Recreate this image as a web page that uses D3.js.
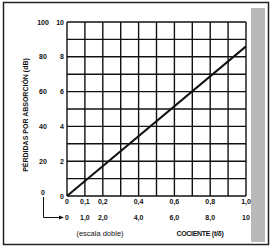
<!DOCTYPE html>
<html>
<head>
<meta charset="utf-8">
<script src="https://cdn.jsdelivr.net/npm/d3@7"></script>
<style>
  body { margin: 0; background: #fff; }
  text { font-family: "Liberation Sans", Arial, sans-serif; fill: #111; }
</style>
</head>
<body>
<div class="chart"></div>
<script>
// absorption loss vs t/delta, double scale
const ratioTicks = [0, 0.1, 0.2, 0.4, 0.6, 0.8, 1.0];
const ratioLabels = ["0", "0,1", "0,2", "0,4", "0,6", "0,8", "1,0"];
const ratioLabelsDouble = ["0", "1,0", "2,0", "4,0", "6,0", "8,0", "10"];
const lossTicks = [0, 2, 4, 6, 8, 10];
const lossLabels = ["0", "2", "4", "6", "8", "10"];
const lossLabelsDouble = ["0", "20", "40", "60", "80", "100"];
const lineRatio = [0, 1.0];
const lineLoss = [0, 8.6];

const width = 271, height = 250;
const plot = {left: 67, right: 246, top: 22, bottom: 196};

const svg = d3.select(".chart").append("svg")
    .attr("width", width)
    .attr("height", height);

const xScale = d3.scaleLinear().domain([0, 1]).range([plot.left, plot.right]);
const yScale = d3.scaleLinear().domain([0, 10]).range([plot.bottom, plot.top]);

// outer frame
svg.append("rect")
    .attr("x", 3.5).attr("y", 2.5)
    .attr("width", 265).attr("height", 242)
    .attr("fill", "none").attr("stroke", "#222").attr("stroke-width", 1.5);

// scan shading on the right edge
svg.append("rect")
    .attr("x", 251).attr("y", 8)
    .attr("width", 14).attr("height", 234)
    .attr("fill", "#8a8a8a").attr("opacity", 0.6);

// grid
const grid = svg.append("g").attr("stroke", "#111").attr("stroke-width", 1.4);
grid.selectAll(".vline")
    .data(xScale.ticks(10))
    .join("line")
    .attr("x1", d => xScale(d)).attr("x2", d => xScale(d))
    .attr("y1", plot.top).attr("y2", plot.bottom);
grid.selectAll(".hline")
    .data(yScale.ticks(10))
    .join("line")
    .attr("y1", d => yScale(d)).attr("y2", d => yScale(d))
    .attr("x1", plot.left).attr("x2", plot.right);

// the loss line
const line = d3.line()
    .x(d => xScale(d[0]))
    .y(d => yScale(d[1]));
svg.append("path")
    .datum(lineRatio.map((r, i) => [r, lineLoss[i]]))
    .attr("d", line)
    .attr("fill", "none")
    .attr("stroke", "#111")
    .attr("stroke-width", 2);

// y labels (inner and outer scale)
svg.selectAll(".yin")
    .data(lossTicks)
    .join("text")
    .attr("x", plot.left - 3)
    .attr("y", d => yScale(d) + 2.5)
    .attr("text-anchor", "end")
    .attr("font-size", 7).attr("font-weight", "bold")
    .text((d, i) => lossLabels[i]);
svg.selectAll(".yout")
    .data(lossTicks)
    .join("text")
    .attr("x", 43)
    .attr("y", d => yScale(d) + (d === 0 ? -1 : 2.5))
    .attr("text-anchor", "middle")
    .attr("font-size", 7).attr("font-weight", "bold")
    .text((d, i) => lossLabelsDouble[i]);

// x labels (two rows)
svg.selectAll(".xin")
    .data(ratioTicks)
    .join("text")
    .attr("x", d => xScale(d))
    .attr("y", 204)
    .attr("text-anchor", "middle")
    .attr("font-size", 7).attr("font-weight", "bold")
    .text((d, i) => ratioLabels[i]);
svg.selectAll(".xout")
    .data(ratioTicks)
    .join("text")
    .attr("x", d => xScale(d))
    .attr("y", 220)
    .attr("text-anchor", "middle")
    .attr("font-size", 7).attr("font-weight", "bold")
    .text((d, i) => ratioLabelsDouble[i]);

// arrow from outer y scale to outer x scale
svg.append("path")
    .attr("d", "M43.5,197 V217.5 H61")
    .attr("fill", "none").attr("stroke", "#111").attr("stroke-width", 1);
svg.append("path")
    .attr("d", "M64,217.5 L59,215.5 L59,219.5 Z")
    .attr("fill", "#111");

// axis titles
svg.append("text")
    .attr("transform", "translate(28,115) rotate(-90)")
    .attr("text-anchor", "middle")
    .attr("font-size", 7).attr("font-weight", "bold")
    .text("PÉRDIDAS POR ABSORCIÓN (dB)");
svg.append("text")
    .attr("x", 100).attr("y", 236)
    .attr("text-anchor", "middle")
    .attr("font-size", 7.5)
    .text("(escala doble)");
svg.append("text")
    .attr("x", 200).attr("y", 236)
    .attr("text-anchor", "middle")
    .attr("font-size", 7).attr("font-weight", "bold")
    .attr("letter-spacing", -0.3)
    .text("COCIENTE (t/δ)");
</script>
</body>
</html>
